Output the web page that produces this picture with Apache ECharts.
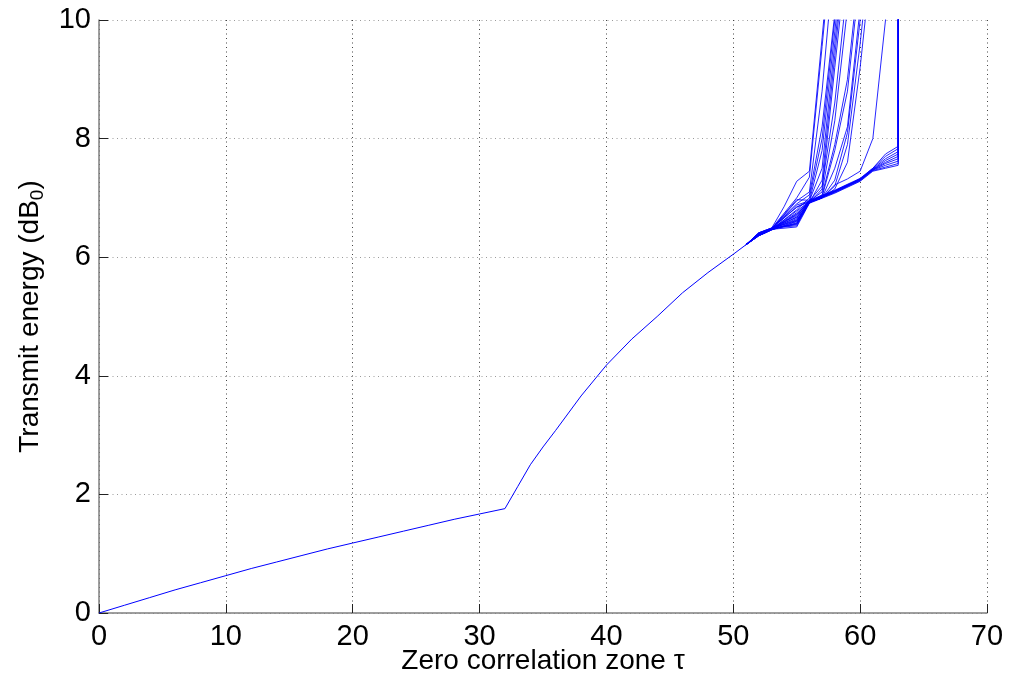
<!DOCTYPE html>
<html>
<head>
<meta charset="utf-8">
<title>Transmit energy vs zero correlation zone</title>
<script src="https://cdn.jsdelivr.net/npm/echarts@6/dist/echarts.min.js"></script>
<style>
  html, body { margin: 0; padding: 0; background: #fff; }
  #chart { width: 1010px; height: 685px; }
</style>
</head>
<body>
<div id="chart"></div>
<script>
// Shared part of every run: zone width tau and transmit energy in dB0
const baseTau = [0, 2, 4, 6, 8, 10, 12, 14, 16, 18, 20, 22, 24, 26, 28, 30, 32,
                 33, 34, 35, 36, 38, 40, 42, 44, 46, 48, 50, 51];
const baseEnergy = [0, 0.13, 0.26, 0.39, 0.51, 0.63, 0.75, 0.86, 0.97, 1.08, 1.18, 1.28,
                    1.38, 1.48, 1.58, 1.67, 1.76,
                    2.13, 2.50, 2.80, 3.08, 3.66, 4.18, 4.62, 5.00, 5.40, 5.74, 6.05, 6.21];

// Individual runs after they leave the shared curve, as [tau, energy] pairs
const divergingRuns = [
  [[52,6.40],[53,6.48],[54,6.85],[55,7.28],[56,7.45],[57,9.7],[58,12]],
  [[52,6.38],[53,6.48],[55,7.00],[56,7.35],[57,9.55],[58,11.8]],
  [[52,6.37],[53,6.47],[55,6.95],[56,7.10],[57,8.8],[58,11.2]],
  [[52,6.39],[53,6.48],[55,6.90],[56,7.05],[57,8.2],[58,10.1],[59,12]],
  [[52,6.36],[53,6.46],[55,6.80],[56,7.00],[57,8.0],[58,10.0],[59,12]],
  [[52,6.41],[53,6.49],[55,6.70],[56,6.95],[57,7.8],[58,9.8],[59,11.8]],
  [[52,6.38],[53,6.47],[55,6.65],[56,6.95],[57,7.5],[58,9.6],[59,11.6]],
  [[52,6.37],[53,6.46],[55,6.60],[56,6.92],[57,7.3],[58,9.4],[59,11.5]],
  [[52,6.40],[53,6.48],[55,6.55],[56,6.92],[57,7.15],[58,9.2],[59,11.2]],
  [[52,6.38],[53,6.47],[55,6.75],[56,6.95],[57,7.2],[58,8.6],[59,10.6],[60,12.6]],
  [[52,6.36],[53,6.46],[55,6.58],[56,6.95],[57,7.1],[58,8.3],[59,10.2],[60,12]],
  [[52,6.39],[53,6.48],[55,6.62],[56,6.93],[57,7.05],[58,7.9],[59,9.0],[60,11]],
  [[52,6.37],[53,6.47],[55,6.68],[56,6.93],[57,7.02],[58,7.8],[59,8.8],[60,10.8]],
  [[52,6.41],[53,6.49],[55,6.53],[56,6.93],[57,7.0],[58,7.5],[59,8.2],[60,10.2],[61,12.2]],
  [[52,6.38],[53,6.47],[55,6.85],[56,6.94],[57,7.0],[58,7.3],[59,8.1],[60,10.0],[61,12]],
  [[52,6.36],[53,6.46],[55,6.72],[56,6.93],[57,7.0],[58,7.2],[59,7.9],[60,9.6],[61,11.6]],
  [[52,6.40],[53,6.48],[55,6.63],[56,6.93],[57,7.0],[58,7.15],[59,7.6],[60,9.2],[61,11.2]],
  [[52,6.38],[53,6.47],[55,6.57],[56,6.92],[57,7.0],[58,7.22],[59,7.32],[60,7.45],[61,8.0],[62,10.0],[63,12]],
  [[52,6.37],[53,6.47],[55,6.51],[56,6.91],[58,7.08],[60,7.28],[61,7.45],[62,7.50],[63,7.55],[63,16]],
  [[52,6.39],[53,6.48],[55,6.56],[56,6.92],[58,7.09],[60,7.29],[61,7.46],[62,7.52],[63,7.58],[63,16]],
  [[52,6.36],[53,6.46],[55,6.61],[56,6.92],[58,7.10],[60,7.30],[61,7.47],[62,7.55],[63,7.62],[63,16]],
  [[52,6.40],[53,6.48],[55,6.67],[56,6.93],[58,7.10],[60,7.30],[61,7.47],[62,7.58],[63,7.66],[63,16]],
  [[52,6.38],[53,6.47],[55,6.73],[56,6.93],[58,7.11],[60,7.31],[61,7.48],[62,7.60],[63,7.70],[63,16]],
  [[52,6.37],[53,6.47],[55,6.78],[56,6.94],[58,7.11],[60,7.31],[61,7.48],[62,7.63],[63,7.74],[63,16]],
  [[52,6.41],[53,6.49],[55,6.84],[56,6.94],[58,7.12],[60,7.32],[61,7.49],[62,7.66],[63,7.78],[63,16]],
  [[52,6.39],[53,6.48],[55,6.88],[56,6.95],[58,7.12],[60,7.32],[61,7.50],[62,7.70],[63,7.83],[63,16]],
  [[52,6.38],[53,6.47],[55,6.97],[56,6.96],[58,7.13],[60,7.33],[61,7.50],[62,7.74],[63,7.87],[63,16]]
];

const xTicks = { min: 0, max: 70, interval: 10 };
const yTicks = { min: 0, max: 10, interval: 2 };

const FONT = 'Liberation Sans, Arial, Helvetica, sans-serif';
const LINE = { color: '#0000ff', width: 1, opacity: 0.85 };

const basePairs = baseTau.map((t, i) => [t, baseEnergy[i]]);
const lastBase = basePairs[basePairs.length - 1];

// Shared curve drawn once, each run continues from its last point
const series = [{
  type: 'line', data: basePairs, symbol: 'none', clip: true, silent: true,
  lineStyle: { color: '#0000ff', width: 1 }
}].concat(divergingRuns.map(run => ({
  type: 'line',
  data: [lastBase].concat(run),
  symbol: 'none',
  clip: true,
  silent: true,
  lineStyle: LINE
})));

const chart = echarts.init(document.getElementById('chart'), null, { renderer: 'canvas' });
chart.setOption({
  animation: false,
  backgroundColor: '#ffffff',
  grid: { left: 99, right: 23, top: 20, bottom: 72, containLabel: false, outerBoundsMode: 'none' },
  xAxis: {
    type: 'value',
    min: xTicks.min, max: xTicks.max, interval: xTicks.interval,
    name: 'Zero correlation zone τ',
    nameLocation: 'middle',
    nameGap: 34,
    nameMoveOverlap: false,
    nameTextStyle: { fontFamily: FONT, fontSize: 28, color: '#000' },
    axisLine: { show: true, lineStyle: { color: '#7f7f7f', width: 1.5 } },
    axisTick: { show: true, inside: true, length: 9, lineStyle: { color: '#222', width: 1 } },
    axisLabel: { fontFamily: FONT, fontSize: 29, color: '#000', margin: 9 },
    splitLine: { show: true, lineStyle: { color: '#444', width: 1, type: [1, 3.5] } }
  },
  yAxis: {
    type: 'value',
    min: yTicks.min, max: yTicks.max, interval: yTicks.interval,
    name: '{a|Transmit energy (dB}{s|0}{a|)}',
    nameLocation: 'middle',
    nameGap: 52,
    nameMoveOverlap: false,
    nameTextStyle: {
      fontFamily: FONT, color: '#000',
      rich: {
        a: { fontFamily: FONT, fontSize: 28, lineHeight: 34, color: '#000' },
        s: { fontFamily: FONT, fontSize: 19, lineHeight: 19, verticalAlign: 'bottom', color: '#000' }
      }
    },
    axisLine: { show: true, lineStyle: { color: '#7f7f7f', width: 1.5 } },
    axisTick: { show: true, inside: true, length: 9, lineStyle: { color: '#222', width: 1 } },
    axisLabel: { fontFamily: FONT, fontSize: 29, color: '#000', margin: 8 },
    splitLine: { show: true, lineStyle: { color: '#9a9a9a', width: 1, type: [1, 3.5] } }
  },
  series: series
});
</script>
</body>
</html>
